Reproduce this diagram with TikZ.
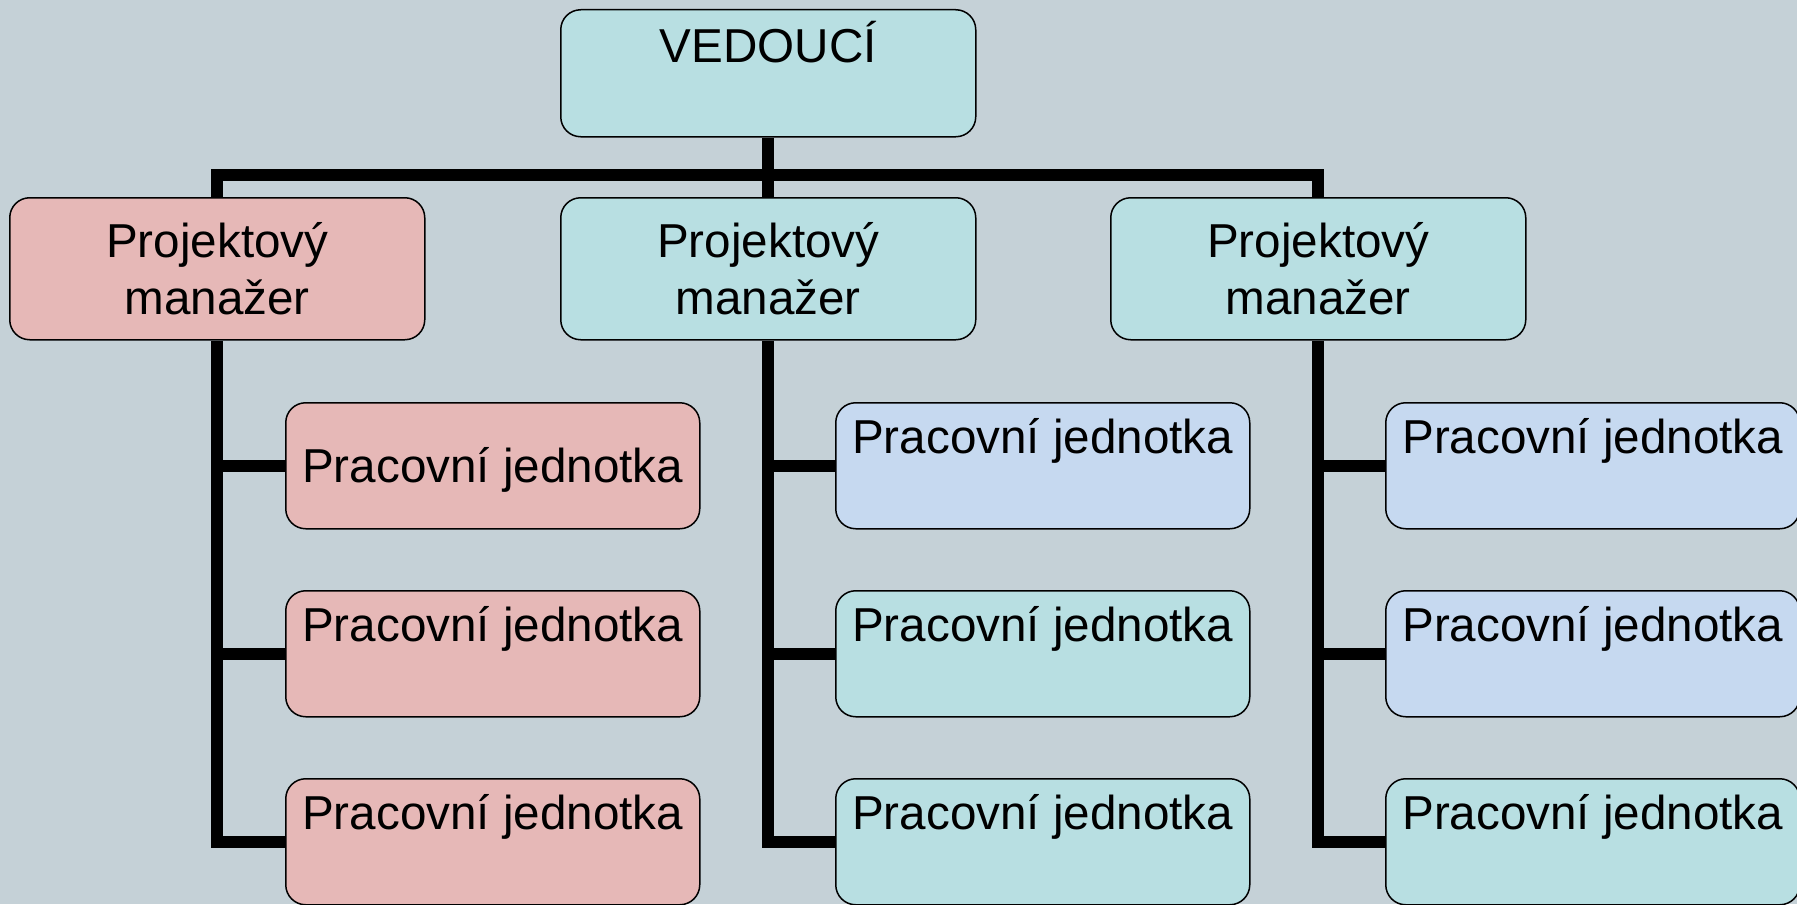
\documentclass[tikz,border=0pt]{standalone}
\usepackage{fontspec}
\setmainfont{Liberation Sans}
\pgfdeclarelayer{bg}\pgfdeclarelayer{lines}
\pgfsetlayers{bg,lines,main}
\definecolor{bgc}{RGB}{197,209,215}
\definecolor{cteal}{RGB}{184,223,226}
\definecolor{cpink}{RGB}{230,184,183}
\definecolor{cblue}{RGB}{198,217,240}
\begin{document}
\begin{tikzpicture}[x=0.5pt,y=-0.5pt,
  box/.style={draw=black, line width=0.75pt, rounded corners=10pt, anchor=north west,
    inner sep=0pt, font=\fontsize{23.8}{28.5}\selectfont},
  topbox/.style={box, minimum width=207pt, text height=25.5pt, text depth=37.5pt},
  midbox/.style={box, minimum width=207pt, text height=39.75pt, text depth=23.25pt},
  mgr/.style={box, minimum width=207.5pt, minimum height=71pt, align=center},
  conn/.style={line width=6pt, line join=miter, draw=black}]
\useasboundingbox (0,0) rectangle (1797,904);
\begin{pgfonlayer}{bg}
\fill[bgc] (0,0) rectangle (1797,904);
\end{pgfonlayer}

\node[box, fill=cteal, minimum width=207.5pt, text height=26.5pt, text depth=37pt] (ved) at (560,9) {VEDOUCÍ};

\node[mgr, fill=cpink] (m1) at (9,197) {Projektový\\manažer};
\node[mgr, fill=cteal] (m2) at (560,197) {Projektový\\manažer};
\node[mgr, fill=cteal] (m3) at (1110,197) {Projektový\\manažer};

\node[midbox, fill=cpink] (w11) at (285,402) {Pracovní jednotka};
\node[topbox, fill=cpink] (w12) at (285,590) {Pracovní jednotka};
\node[topbox, fill=cpink] (w13) at (285,778) {Pracovní jednotka};

\node[topbox, fill=cblue] (w21) at (835,402) {Pracovní jednotka};
\node[topbox, fill=cteal] (w22) at (835,590) {Pracovní jednotka};
\node[topbox, fill=cteal] (w23) at (835,778) {Pracovní jednotka};

\node[topbox, fill=cblue] (w31) at (1385,402) {Pracovní jednotka};
\node[topbox, fill=cblue] (w32) at (1385,590) {Pracovní jednotka};
\node[topbox, fill=cteal] (w33) at (1385,778) {Pracovní jednotka};

\coordinate (j) at (768,175);
\begin{pgfonlayer}{lines}
\draw[conn] (ved.south) -- (ved.south |- j);
\draw[conn] (m1.north) -- (m1.north |- j) -- (m3.north |- j) -- (m3.north);
\draw[conn] (m2.north |- j) -- (m2.north);
\foreach \i in {1,2,3}{
  \draw[conn] (m\i.south) -- (m\i.south |- w\i3.west) -- (w\i3.west);
  \draw[conn] (m\i.south |- w\i1.west) -- (w\i1.west);
  \draw[conn] (m\i.south |- w\i2.west) -- (w\i2.west);
}
\end{pgfonlayer}
\end{tikzpicture}
\end{document}
